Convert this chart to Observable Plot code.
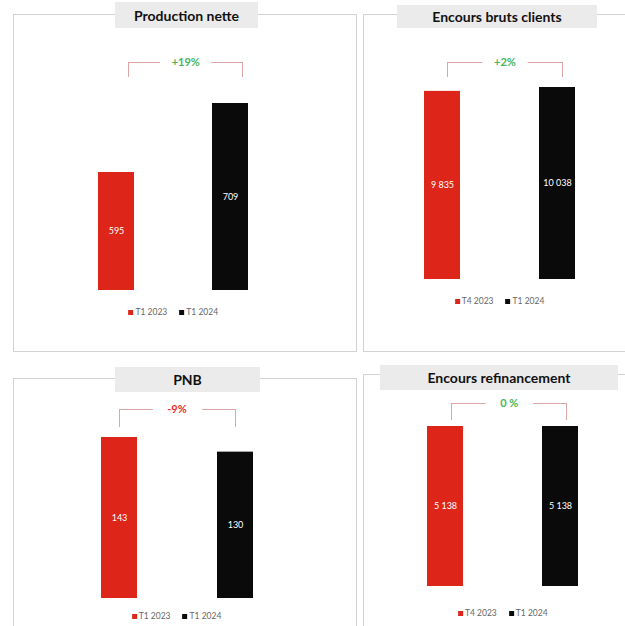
<!DOCTYPE html>
<html><head><meta charset="utf-8">
<script src="https://cdn.jsdelivr.net/npm/d3@7"></script>
<script src="https://cdn.jsdelivr.net/npm/@observablehq/plot@0.6"></script>
<style>
body{margin:0;width:625px;height:626px;overflow:hidden;position:relative;background:#fff;font-family:Lato,"DejaVu Sans",sans-serif;}
.box{position:absolute;border:1px solid #d2d2d2;box-sizing:border-box;}
.tab{position:absolute;background:#ebebeb;font-weight:bold;font-size:14px;color:#111;display:flex;align-items:center;justify-content:center;z-index:2;white-space:nowrap;}
.legend{position:absolute;font-size:8.5px;color:#666;display:flex;gap:12px;transform:translateX(-50%);white-space:nowrap;align-items:center;}
.sw{display:inline-block;width:5px;height:5px;margin-right:2px;vertical-align:middle;}
</style></head><body>
<script>
// ---- data ----
const panelTitles = ["Production nette", "Encours bruts clients", "PNB", "Encours refinancement"];
const prevPeriods = ["T1 2023", "T4 2023", "T1 2023", "T4 2023"];
const currPeriods = ["T1 2024", "T1 2024", "T1 2024", "T1 2024"];
const prevValues = [595, 9835, 143, 5138];
const currValues = [709, 10038, 130, 5138];
const changeLabels = ["+19%", "+2%", "-9%", "0 %"];
const axisMins = [400, 0, 0, 0];

// ---- layout (page pixels) ----
const layout = [
  {box:[13,14,344,338], tab:[115,2,143,26], c:[116,230.5], base:290, top:103, bracket:62, tick:15, legendY:313, bdx:12, gap:52},
  {box:[363,14,272,338], tab:[397,5,200,23], c:[442,557], base:279, top:87, bracket:62, tick:15, legendY:302, bdx:5, gap:46},
  {box:[13,378,344,262], tab:[115,367,145,25], c:[118.5,234.5], base:598, top:437, bracket:409, tick:18, legendY:617, bdx:0, gap:50},
  {box:[363,374,272,262], tab:[380,365,238,25], c:[445,560.5], base:586, top:426, bracket:403, tick:17, legendY:614, bdx:6, gap:48}
];
const RED = "#dd2519", BLACK = "#0a0a0a", BRACKET = "#dca6a6", GREEN = "#45b556";
const fmt = d3.formatLocale({decimal: ",", thousands: "\u00a0", grouping: [3]}).format(",d");
const barW = 36;

panelTitles.forEach((title, i) => {
  const L = layout[i];
  const [bx, by, bw, bh] = L.box;
  const box = document.createElement("div");
  box.className = "box";
  Object.assign(box.style, {left: bx + "px", top: by + "px", width: bw + "px", height: bh + "px"});
  document.body.appendChild(box);

  const tab = document.createElement("div");
  tab.className = "tab";
  const [tx, ty, tw, th] = L.tab;
  Object.assign(tab.style, {left: tx + "px", top: ty + "px", width: tw + "px", height: th + "px"});
  tab.textContent = title;
  document.body.appendChild(tab);

  const rows = [
    {period: prevPeriods[i], value: prevValues[i]},
    {period: currPeriods[i], value: currValues[i]}
  ];
  const periods = rows.map(d => d.period);
  const maxV = d3.max(rows, d => d.value);
  const lo = axisMins[i];
  const [c1, c2] = L.c;
  const span = c2 - c1;
  const seg = (span - L.gap) / 2;
  const up = -(L.top - L.bracket);
  const label = changeLabels[i];
  const labelColor = label.startsWith("-") ? "#e8312a" : GREEN;

  const chart = Plot.plot({
    width: bw,
    height: L.base - by,
    marginTop: L.top - by,
    marginBottom: 0,
    marginLeft: c1 - barW / 2 - bx,
    marginRight: bx + bw - (c2 + barW / 2),
    x: {domain: periods, paddingInner: 1 - barW / span, paddingOuter: 0, axis: null},
    y: {domain: [lo, maxV], axis: null},
    color: {domain: periods, range: [RED, BLACK]},
    style: {background: "transparent", overflow: "visible", fontFamily: "Lato, 'DejaVu Sans', sans-serif"},
    marks: [
      Plot.barY(rows, {x: "period", y1: lo, y2: "value", fill: "period"}),
      Plot.text(rows, {x: "period", y: d => (lo + d.value) / 2, text: d => fmt(d.value), fill: "white", fontSize: 9}),
      Plot.ruleX(rows, {x: "period", y1: maxV, y2: maxV, dy: up, dx: L.bdx, insetBottom: -L.tick, stroke: BRACKET, strokeWidth: 1}),
      Plot.line(rows, {x: "period", y: maxV, dy: up, dx: L.bdx, stroke: BRACKET, strokeWidth: 1, strokeDasharray: `${seg},${L.gap},${seg}`}),
      Plot.text([label], {text: d => d, y: maxV, dy: up, dx: L.bdx, frameAnchor: "middle", fill: labelColor, fontSize: 11, fontWeight: "bold"})
    ]
  });
  Object.assign(chart.style, {position: "absolute", left: bx + "px", top: by + "px", zIndex: 1});
  document.body.appendChild(chart);

  const leg = document.createElement("div");
  leg.className = "legend";
  Object.assign(leg.style, {left: ((c1 + c2) / 2) + "px", top: (L.legendY - 6) + "px"});
  [[periods[0], RED], [periods[1], BLACK]].forEach(([p, col]) => {
    const item = document.createElement("span");
    item.innerHTML = `<span class="sw" style="background:${col}"></span>${p}`;
    leg.appendChild(item);
  });
  document.body.appendChild(leg);
});
</script>
</body></html>
